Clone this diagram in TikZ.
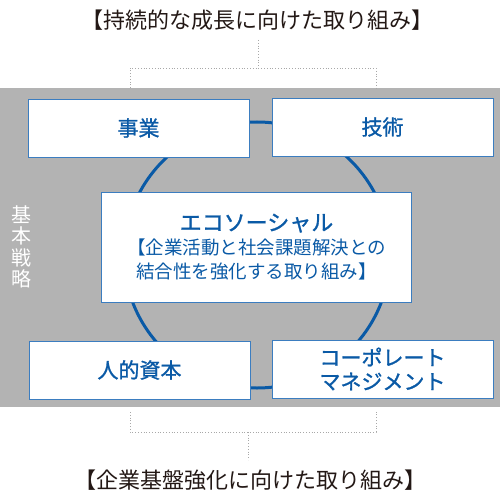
\documentclass[tikz,border=0pt]{standalone}
\usepackage{fontspec}
\newfontfamily\jpfont{Noto Sans CJK JP}
\newfontfamily\jpmed{Noto Sans CJK JP}[FakeBold=1.2]
\usetikzlibrary{positioning}
\definecolor{bandgrey}{HTML}{B3B3B3}
\definecolor{ecoblue}{HTML}{0A5AA6}
\definecolor{boxline}{HTML}{3B7DC0}
\definecolor{guidegrey}{HTML}{A8A8A8}
\definecolor{titleink}{HTML}{231815}

\begin{document}
\begin{tikzpicture}[x=1pt, y=-1pt,
    box/.style={draw=boxline, fill=white, line width=0.8pt, rectangle,
        minimum width=221pt, minimum height=58pt, inner sep=0pt,
        align=center, text=ecoblue, font=\jpmed\fontsize{21}{24}\selectfont},
    title/.style={text=titleink, inner sep=0pt, font=\jpfont\fontsize{22}{24}\selectfont},
    guide/.style={draw=guidegrey, dotted, line width=0.8pt},
    ring/.style={draw=ecoblue, line width=3pt}]
    \useasboundingbox (0,0) rectangle (500,500);
    \fill[bandgrey] (0,88) rectangle (500,407);

    % wheel behind the boxes
    \coordinate (hub) at (257,255);
    \draw[ring] (hub) circle [radius=133pt];

    \node[box] (biz) at (138.5,128) {事業};
    \node[box] (tech) at (382.5,127) {技術};
    \node[box] (people) at (139.5,370) {人的資本};
    \node[box] (corp) at (382.5,369) {コーポレート\\マネジメント};
    \node[box, minimum width=310pt, minimum height=110pt] (eco) at (256.5,247)
        {\fontsize{22}{30}\selectfont エコソーシャル\\
         \jpfont\fontsize{18.5}{24}\selectfont 【企業活動と社会課題解決との\\
         \jpfont\fontsize{18.5}{24}\selectfont 結合性を強化する取り組み】};

    \node[text=white, align=center, inner sep=0pt,
        font=\jpfont\fontsize{20}{21.5}\selectfont] (strategy) at (22,247)
        {基\\本\\戦\\略};

    % growth side
    \node[title] (growth) at (257,20) {【持続的な成長に向けた取り組み】};
    \coordinate (growthTop) at (258,40);
    \coordinate (growthJ) at (258,68);
    \coordinate (growthL) at (130,88);
    \coordinate (growthR) at (376,88);
    \draw[guide] (growthTop) -- (growthJ);
    \draw[guide] (growthL) |- (growthJ) -| (growthR);

    % foundation side
    \node[title] (base) at (250,480) {【企業基盤強化に向けた取り組み】};
    \coordinate (baseL) at (130,412);
    \coordinate (baseR) at (376,412);
    \coordinate (baseJ) at (248,432);
    \coordinate (baseBot) at (248,460);
    \draw[guide] (baseL) |- (baseJ) -| (baseR);
    \draw[guide] (baseJ) -- (baseBot);
\end{tikzpicture}
\end{document}
